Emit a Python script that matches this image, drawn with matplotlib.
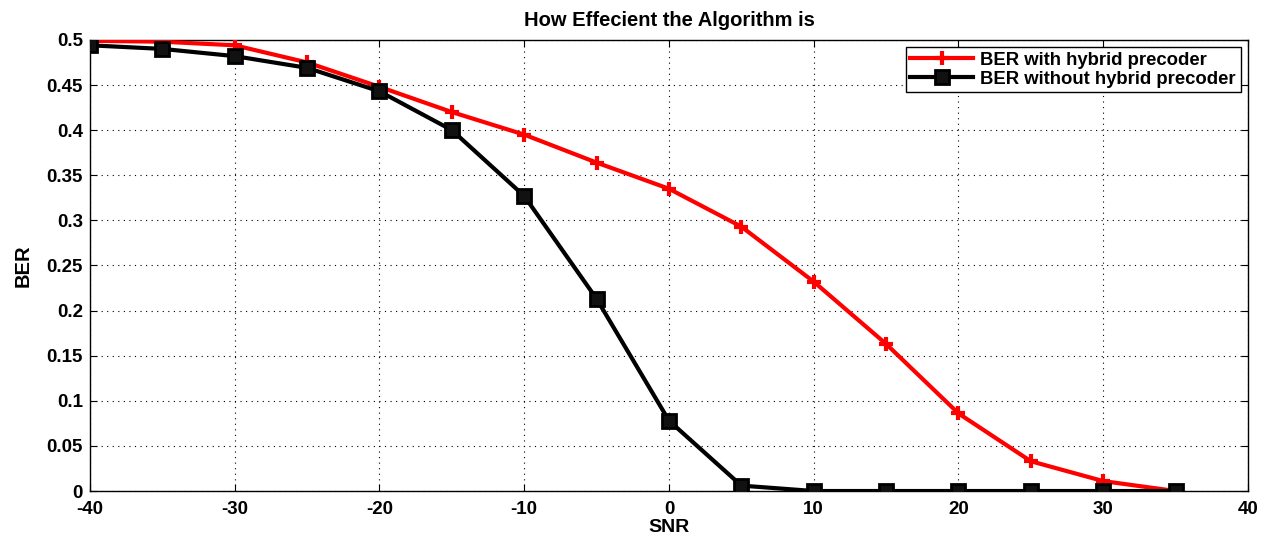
import numpy as np
import matplotlib; matplotlib.use("Agg"); import matplotlib.pyplot as plt

plt.rcParams["font.family"] = ["Liberation Sans", "DejaVu Sans"]
plt.rcParams["font.weight"] = "bold"

snr = [-40, -35, -30, -25, -20, -15, -10, -5, 0, 5, 10, 15, 20, 25, 30, 35]
ber_hybrid = [0.499, 0.498, 0.494, 0.475, 0.448, 0.420, 0.395, 0.364, 0.335,
              0.293, 0.232, 0.163, 0.086, 0.033, 0.011, 0.000]
ber_plain = [0.494, 0.490, 0.482, 0.469, 0.443, 0.400, 0.327, 0.213, 0.078,
             0.006, 0.000, 0.000, 0.000, 0.000, 0.000, 0.000]
xticks = np.arange(-40, 41, 10)
yticks = np.arange(0, 0.51, 0.05)

fig = plt.figure(figsize=(12.74, 5.39), dpi=100)
ax = fig.add_axes([0.0706, 0.089, 0.909, 0.837])
ax.plot(snr, ber_hybrid, color="red", lw=3.0, marker="+", ms=10, mew=3,
        label="BER with hybrid precoder", zorder=3)
ax.plot(snr, ber_plain, color="black", lw=3.0, marker="s", ms=10, mew=2,
        mfc="#111", mec="black", label="BER without hybrid precoder", zorder=3)
ax.set_xlim(-40, 40); ax.set_ylim(0, 0.5)
ax.set_xticks(xticks); ax.set_yticks(yticks)
ax.set_xticklabels([f"{v:g}" for v in xticks], fontsize=13.5, fontweight="bold")
ax.set_yticklabels([f"{v:g}" for v in np.round(yticks, 2)], fontsize=13.5, fontweight="bold")
ax.tick_params(axis="x", direction="in", top=True, length=5, pad=7)
ax.tick_params(axis="y", direction="in", right=True, length=5, pad=5)
ax.grid(True, ls=(0, (1, 4)), color="black", lw=0.8)
ax.set_xlabel("SNR", fontsize=14, fontweight="bold", labelpad=1)
ax.set_ylabel("BER", fontsize=14.5, fontweight="bold", labelpad=10)
ax.set_title("How Effecient the Algorithm is", fontsize=14.5, fontweight="bold", pad=10)
leg = ax.legend(loc="upper right", fontsize=13.3, fancybox=False, framealpha=1,
                edgecolor="black", borderaxespad=0.4, handlelength=3.4,
                handletextpad=0.4, borderpad=0.25, labelspacing=0.1)
leg.get_frame().set_linewidth(1.0)
for t in leg.get_texts():
    t.set_fontweight("bold")
for s in ax.spines.values():
    s.set_linewidth(1.0)
fig.savefig("out.png", dpi=100)
